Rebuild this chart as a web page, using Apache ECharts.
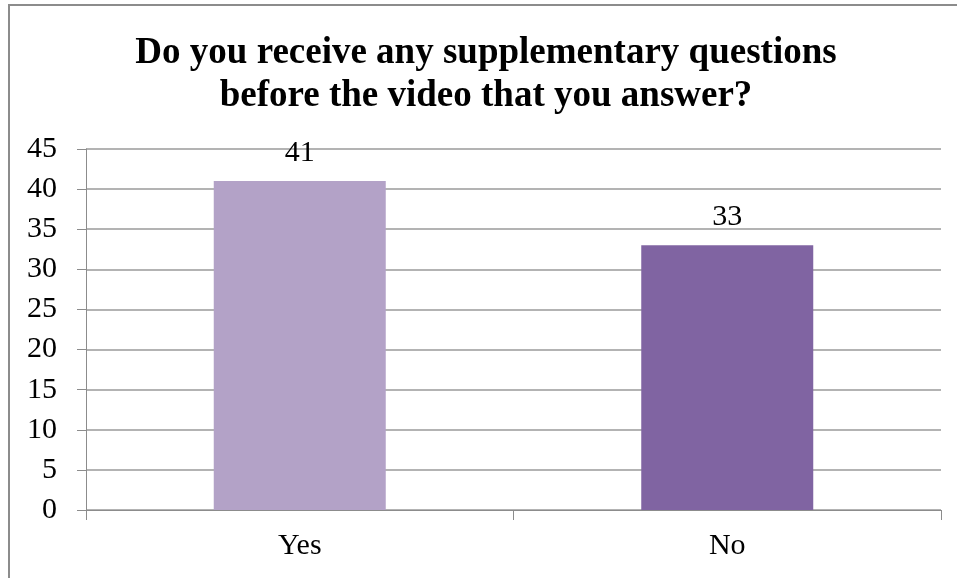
<!DOCTYPE html>
<html>
<head>
<meta charset="utf-8">
<script src="https://cdn.jsdelivr.net/npm/echarts@6/dist/echarts.min.js"></script>
<style>
  html, body { margin: 0; padding: 0; background: #fff; }
  #chart { width: 957px; height: 578px; }
</style>
</head>
<body>
<div id="chart"></div>
<script>
var titleText = "Do you receive any supplementary questions\nbefore the video that you answer?";
var categories = ["Yes", "No"];
var answers = [41, 33];
var barColors = ["#B3A2C7", "#8064A2"];

var serif = "'Liberation Serif', 'Times New Roman', serif";

var chart = echarts.init(document.getElementById("chart"));
chart.setOption({
  animation: false,
  title: {
    text: titleText,
    left: 481,
    top: 27,
    textAlign: "center",
    textStyle: {
      fontFamily: serif,
      fontWeight: "bold",
      fontSize: 37,
      lineHeight: 43,
      color: "#000"
    }
  },
  graphic: [{
    type: "rect",
    shape: { x: 9, y: 5, width: 1000, height: 1000 },
    style: { fill: "none", stroke: "#8c8c8c", lineWidth: 2 },
    silent: true
  }],
  grid: { left: 86, right: 16, top: 149, bottom: 68 },
  xAxis: {
    type: "category",
    data: categories,
    axisLine: { lineStyle: { color: "#8c8c8c", width: 1 } },
    axisTick: { show: true, length: 10, lineStyle: { color: "#8c8c8c" } },
    axisLabel: {
      fontFamily: serif,
      fontSize: 30,
      color: "#000",
      margin: 21
    }
  },
  yAxis: {
    type: "value",
    min: 0,
    max: 45,
    interval: 5,
    axisLine: { show: true, lineStyle: { color: "#8c8c8c", width: 1 } },
    axisTick: { show: true, length: 9, lineStyle: { color: "#8c8c8c" } },
    splitLine: { show: true, lineStyle: { color: "#9a9a9a", width: 1.5 } },
    axisLabel: {
      fontFamily: serif,
      fontSize: 30,
      color: "#000",
      margin: 29
    }
  },
  series: [{
    type: "bar",
    barWidth: 172,
    data: answers.map(function (v, i) {
      return { value: v, itemStyle: { color: barColors[i] } };
    }),
    label: {
      show: true,
      position: "top",
      distance: 13,
      fontFamily: serif,
      fontSize: 30,
      color: "#000"
    }
  }]
});
</script>
</body>
</html>
